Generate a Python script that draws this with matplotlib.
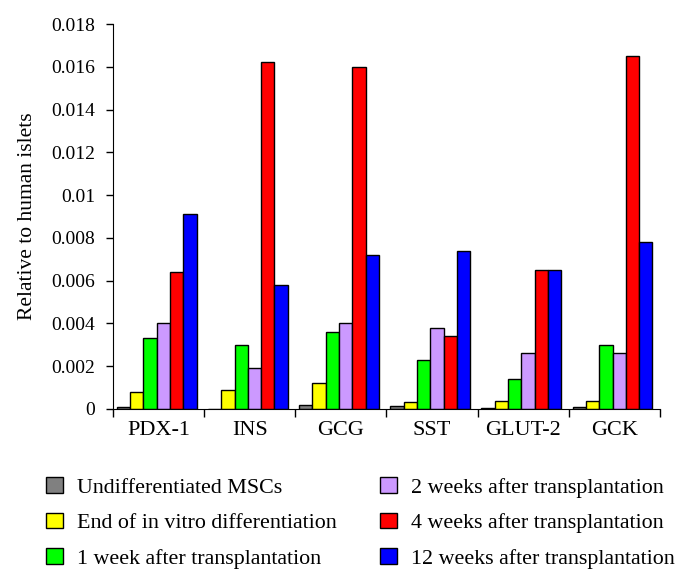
import matplotlib
matplotlib.use("Agg")
import matplotlib.pyplot as plt
import numpy as np
from matplotlib.patches import Patch

plt.rcParams['font.family'] = ['Liberation Serif', 'DejaVu Serif']

categories = ["PDX-1", "INS", "GCG", "SST", "GLUT-2", "GCK"]
series_names = ["Undifferentiated MSCs", "End of in vitro differentiation",
                "1 week after transplantation", "2 weeks after transplantation",
                "4 weeks after transplantation", "12 weeks after transplantation"]
undiff = [0.0001, 0.0, 0.0002, 0.00016, 0.00005, 0.0001]
end_vitro = [0.00081, 0.00089, 0.0012, 0.00034, 0.00037, 0.00037]
week1 = [0.0033, 0.0030, 0.0036, 0.0023, 0.0014, 0.0030]
week2 = [0.0040, 0.0019, 0.0040, 0.0038, 0.0026, 0.0026]
week4 = [0.0064, 0.0162, 0.0160, 0.0034, 0.0065, 0.0165]
week12 = [0.0091, 0.0058, 0.0072, 0.0074, 0.0065, 0.0078]
series = [undiff, end_vitro, week1, week2, week4, week12]
colors = ["#808080", "#ffff00", "#00ff00", "#cc99ff", "#ff0000", "#0000ff"]
yticks = [0, 0.002, 0.004, 0.006, 0.008, 0.01, 0.012, 0.014, 0.016, 0.018]
ytick_labels = ["0", "0.002", "0.004", "0.006", "0.008", "0.01", "0.012", "0.014", "0.016", "0.018"]

fig = plt.figure(figsize=(6.86, 5.84), dpi=100)
ax = fig.add_axes([0.1647, 0.2997, 0.7973, 0.6592])

n = len(series)
group_w = 0.875
bw = group_w / n
x = np.arange(len(categories))
for i, (vals, c) in enumerate(zip(series, colors)):
    offs = -group_w / 2 + bw * (i + 0.5) - 0.02
    ax.bar(x + offs, vals, width=bw, color=c, edgecolor="black", linewidth=1.0)

ax.set_xlim(-0.5, len(categories) - 0.5)
ax.set_ylim(0, 0.018)
ax.set_yticks(yticks)
ax.set_yticklabels(ytick_labels, fontsize=14)
ax.set_xticks(x)
ax.set_xticklabels(categories, fontsize=16)
ax.tick_params(axis='x', which='major', length=0, pad=9)
ax.set_xticks(np.arange(len(categories) + 1) - 0.5, minor=True)
ax.tick_params(axis='x', which='minor', length=6, width=1, direction='out')
ax.tick_params(axis='y', length=5, width=1, direction='out', pad=8)
for s in ["top", "right"]:
    ax.spines[s].set_visible(False)
ax.set_ylabel("Relative to human islets", fontsize=15.5, labelpad=10)

handles = [Patch(facecolor=c, edgecolor="black", label=l) for c, l in zip(colors, series_names)]
fig.legend(handles=handles, loc="upper left", bbox_to_anchor=(0.067, 0.183), ncol=2,
           frameon=False, fontsize=15.8, handlelength=0.78, handleheight=0.73,
           columnspacing=1.96, labelspacing=0.68, handletextpad=0.64, borderpad=0,
           borderaxespad=0)

fig.savefig("out.png", dpi=100)
